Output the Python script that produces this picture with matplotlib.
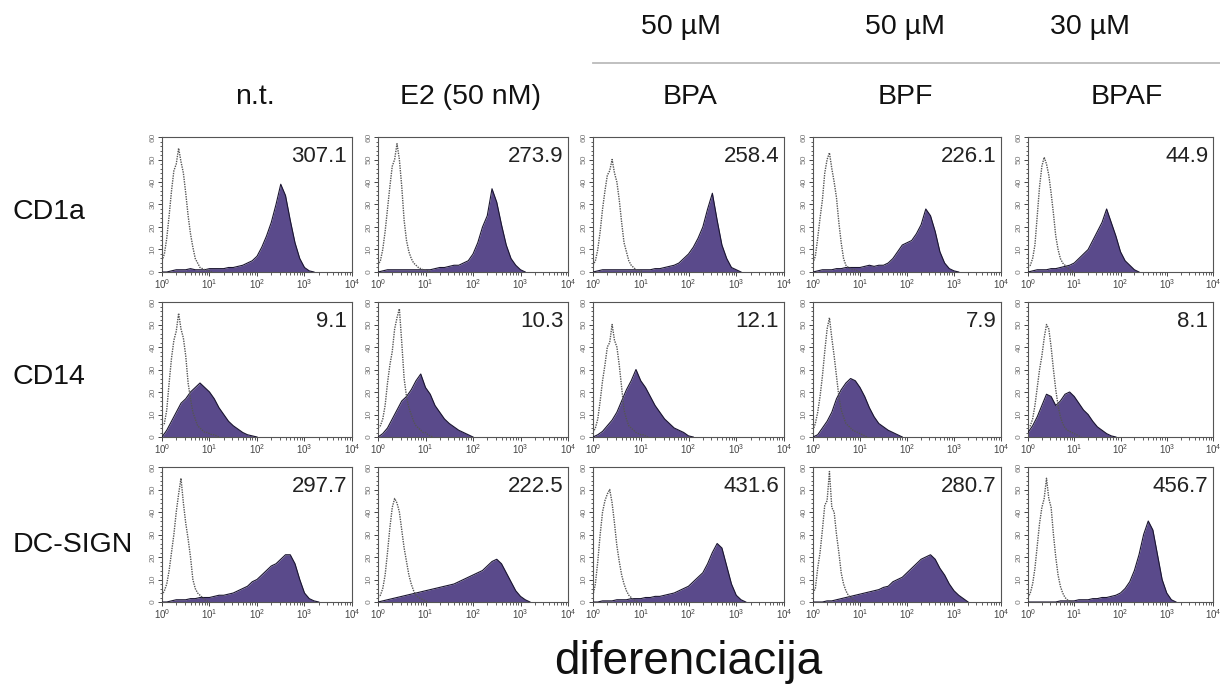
import numpy as np
import matplotlib
matplotlib.use("Agg")
import matplotlib.pyplot as plt
from matplotlib.ticker import MultipleLocator, LogLocator

plt.rcParams['font.family'] = ['Liberation Sans', 'DejaVu Sans']

treatments = ["n.t.", "E2 (50 nM)", "BPA", "BPF", "BPAF"]
doses = ["50 µM", "50 µM", "30 µM"]
markers = ["CD1a", "CD14", "DC-SIGN"]

# mean fluorescence shown in each panel
mfi = [
    [307.1, 273.9, 258.4, 226.1, 44.9],
    [9.1, 10.3, 12.1, 7.9, 8.1],
    [297.7, 222.5, 431.6, 280.7, 456.7],
]

cd1a_stained = [
    [0, 0, 0.5, 1, 1, 1, 1.5, 1, 1, 1, 1.5, 1.5, 1.5, 1.5, 2, 2, 2.5, 3, 4, 5, 7, 11, 16, 22, 30, 39, 34, 23, 13, 6, 2, 0.5, 0],
    [0, 0.5, 1, 1, 1, 1, 1, 1, 1, 1, 1, 1, 1.5, 2, 2, 2.5, 3, 3, 4, 5, 8, 13, 20, 25, 37, 31, 21, 12, 6, 3, 1, 0],
    [0, 0.5, 1, 1, 1, 1, 1, 1, 1, 1, 1, 1, 1, 1.5, 1.5, 2, 2.5, 3, 4, 6, 8, 11, 15, 20, 28, 35, 23, 12, 6, 2, 1, 0],
    [0, 0.5, 1, 1, 1, 1.5, 1.5, 2, 2, 2, 2, 2.5, 3, 2.5, 3, 3, 4, 6, 9, 12, 13, 14, 17, 21, 28, 25, 18, 9, 4, 1.5, 0.5, 0],
    [0, 0.5, 1, 1, 1, 1.5, 1.5, 2, 2.5, 3, 4, 6, 8, 10, 14, 18, 22, 28, 22, 16, 9, 5, 3, 1, 0],
]
cd14_stained = [
    [0, 3, 7, 11, 15, 17, 20, 22, 24, 22, 20, 17, 13, 10, 7, 5, 3.5, 2, 1, 0.5, 0],
    [0, 1.5, 4, 8, 12, 16, 18, 21, 25, 28, 22, 19, 14, 11, 8, 6, 4.5, 3, 2, 1, 0],
    [0, 1, 2.5, 5, 7.5, 11, 16, 21, 25, 30, 25, 22, 18, 14, 11, 8, 6, 4, 3, 2, 0.5, 0],
    [0, 1, 4, 7, 11, 17, 21, 24, 26, 25, 22, 18, 13, 9, 6, 4.5, 3, 2, 1, 0],
    [2, 5, 9, 14, 19, 18, 14, 16, 19, 20, 18, 15, 12, 10, 7, 4.5, 3, 1.5, 0.5, 0],
]
dcsign_stained = [
    [0, 0, 0.5, 1, 1, 1, 1.5, 1.5, 2, 2, 2, 2.5, 3, 3, 3.5, 4, 5, 6, 7, 9, 10, 12, 14, 16, 17, 19, 21, 21, 17, 10, 4, 1.5, 0.5, 0],
    [0, 0.5, 1, 1.5, 2, 2.5, 3, 3.5, 4, 4.5, 5, 5.5, 6, 6.5, 7, 7.5, 8, 9, 10, 11, 12, 13, 14, 16, 18, 19, 17, 13, 9, 5, 2.5, 1, 0],
    [0, 0, 0.5, 0.5, 0.5, 1, 1, 1, 1.5, 1.5, 1.5, 2, 2, 2.5, 2.5, 3, 3.5, 4, 5, 6, 7, 9, 11, 13, 17, 22, 26, 24, 16, 8, 3, 1, 0],
    [0, 0, 0, 0.5, 0.5, 1, 1.5, 2, 2.5, 3, 3.5, 4, 4.5, 5, 5.5, 6.5, 7, 9, 10, 11, 13, 15, 17, 19, 20, 21, 19, 15, 12, 8, 5, 3, 1.5, 0],
    [0, 0, 0, 0, 0, 0, 0, 0.5, 0.5, 0.5, 0.5, 1, 1, 1, 1.5, 1.5, 2, 2, 2.5, 3, 4, 6, 9, 14, 21, 30, 36, 32, 21, 10, 4, 1, 0],
]

# unstained control histograms (dotted), log10 step 0.05 starting at 10^0
cd1a_control = [
    [5, 8, 15, 25, 36, 45, 48, 55, 49, 44, 35, 25, 17, 11, 6, 4, 2, 1.5, 1, 1, 0.5, 0],
    [3, 5, 10, 18, 28, 38, 47, 50, 57, 50, 38, 23, 14, 9, 6, 4, 3, 2, 1.5, 1, 1, 0.5, 0],
    [3, 5, 10, 18, 28, 36, 43, 45, 50, 44, 40, 32, 22, 13, 9, 5, 3, 2, 1, 1, 0.5, 0],
    [4, 7, 15, 24, 32, 44, 50, 53, 46, 40, 33, 22, 13, 6, 3, 2, 1.5, 1, 1, 0.5, 0],
    [2, 3, 6, 12, 25, 38, 47, 51, 48, 43, 35, 26, 16, 10, 6, 4, 3, 2, 1, 0.5, 0],
]
cd14_control = [
    [5, 6, 12, 24, 35, 43, 47, 55, 48, 44, 36, 24, 17, 11, 8, 5, 4, 3, 2, 2, 1.5, 1, 1, 0.5, 0],
    [4, 5, 8, 14, 24, 32, 38, 48, 53, 57, 42, 26, 18, 13, 10, 7, 5, 4, 3, 2, 2, 1, 0.5, 0],
    [2, 4, 8, 16, 25, 32, 40, 42, 50, 43, 40, 32, 22, 12, 8, 5, 4, 3, 2, 1.5, 1, 1, 0.5, 0],
    [3, 6, 11, 18, 27, 38, 48, 53, 44, 36, 27, 18, 12, 9, 6, 5, 4, 3, 2.5, 2, 1.5, 1, 0.5, 0],
    [4, 5, 8, 14, 22, 30, 36, 44, 50, 48, 40, 30, 21, 14, 9, 6, 4, 3, 2.5, 2, 1.5, 1, 0.5, 0],
]
dcsign_control = [
    [3, 5, 8, 14, 22, 30, 40, 48, 55, 44, 35, 28, 20, 10, 6, 4, 3, 2, 1, 0.5, 0],
    [2, 3, 6, 12, 22, 33, 42, 46, 44, 40, 32, 24, 18, 12, 8, 5, 3, 2, 1.5, 1, 0.5, 0],
    [3, 8, 18, 30, 40, 45, 48, 50, 44, 35, 25, 18, 12, 8, 5, 3, 2, 1, 0.5, 0],
    [4, 6, 15, 22, 32, 43, 45, 58, 42, 40, 30, 22, 13, 8, 5, 3, 2, 1, 0.5, 0],
    [2, 4, 8, 15, 25, 35, 42, 46, 55, 46, 42, 30, 20, 12, 7, 4, 2, 1, 0.5, 0],
]

stained = [cd1a_stained, cd14_stained, dcsign_stained]
control = [cd1a_control, cd14_control, dcsign_control]

fill_col = '#5a4a8b'
W, H = 1220, 693
col_left = [162, 378, 593, 813, 1028]
col_width = [190, 190, 191, 188, 185]
row_top = [137, 302, 467]
row_h = 135

fig = plt.figure(figsize=(12.2, 6.93), dpi=100)

for r in range(3):
    for c in range(5):
        ax = fig.add_axes([col_left[c] / W, 1 - (row_top[r] + row_h) / H,
                           col_width[c] / W, row_h / H])
        s = stained[r][c]
        xs = 10 ** (0.1 * np.arange(len(s)))
        ax.fill_between(xs, 0, s, color=fill_col, lw=0, zorder=2)
        ax.plot(xs, s, color='#1a1530', lw=0.8, zorder=3)
        k = control[r][c]
        xk = 10 ** (0.05 * np.arange(len(k)))
        ax.plot(xk, k, color='#555555', lw=1.0, ls=(0, (1, 0.8)), zorder=4)

        ax.set_xscale('log')
        ax.set_xlim(1, 1e4)
        ax.set_ylim(0, 60)
        ax.xaxis.set_major_locator(LogLocator(base=10, numticks=5))
        ax.xaxis.set_minor_locator(LogLocator(base=10, subs=np.arange(2, 10), numticks=20))
        ax.yaxis.set_major_locator(MultipleLocator(10))
        ax.yaxis.set_minor_locator(MultipleLocator(2))
        ax.tick_params(axis='both', which='major', length=3, width=0.7, color='#444444',
                       direction='out', pad=1)
        ax.tick_params(axis='both', which='minor', length=1.8, width=0.6, color='#444444',
                       direction='out')
        ax.tick_params(axis='x', labelsize=7, labelcolor='#444444')
        ax.tick_params(axis='y', labelsize=6, labelcolor='#777777', labelrotation=90)
        for lab in ax.get_yticklabels():
            lab.set_va('center')
        for sp in ax.spines.values():
            sp.set_color('#555555')
            sp.set_linewidth(0.8)
        ax.text(0.975, 0.93, f"{mfi[r][c]:.1f}", transform=ax.transAxes,
                ha='right', va='top', fontsize=16, color='#222222')

# column headers
head_x = [255, 471, 690, 905, 1127]
for name, x in zip(treatments, head_x):
    fig.text(x / W, 1 - 97 / H, name, ha='center', va='center', fontsize=20.5, color='#111111')
for d, x in zip(doses, [681, 905, 1090]):
    fig.text(x / W, 1 - 27 / H, d, ha='center', va='center', fontsize=20.5, color='#111111')
fig.add_artist(plt.Line2D([593 / W, 1.0], [1 - 63 / H, 1 - 63 / H], color='#bbbbbb', lw=1.3))

# row labels
for m, y in zip(markers, [212, 377, 545]):
    fig.text(13 / W, 1 - y / H, m, ha='left', va='center', fontsize=20.5, color='#111111')

fig.text(688 / W, 1 - 662 / H, "diferenciacija", ha='center', va='center', fontsize=33, color='#111111')

fig.savefig("out.png", dpi=100)
